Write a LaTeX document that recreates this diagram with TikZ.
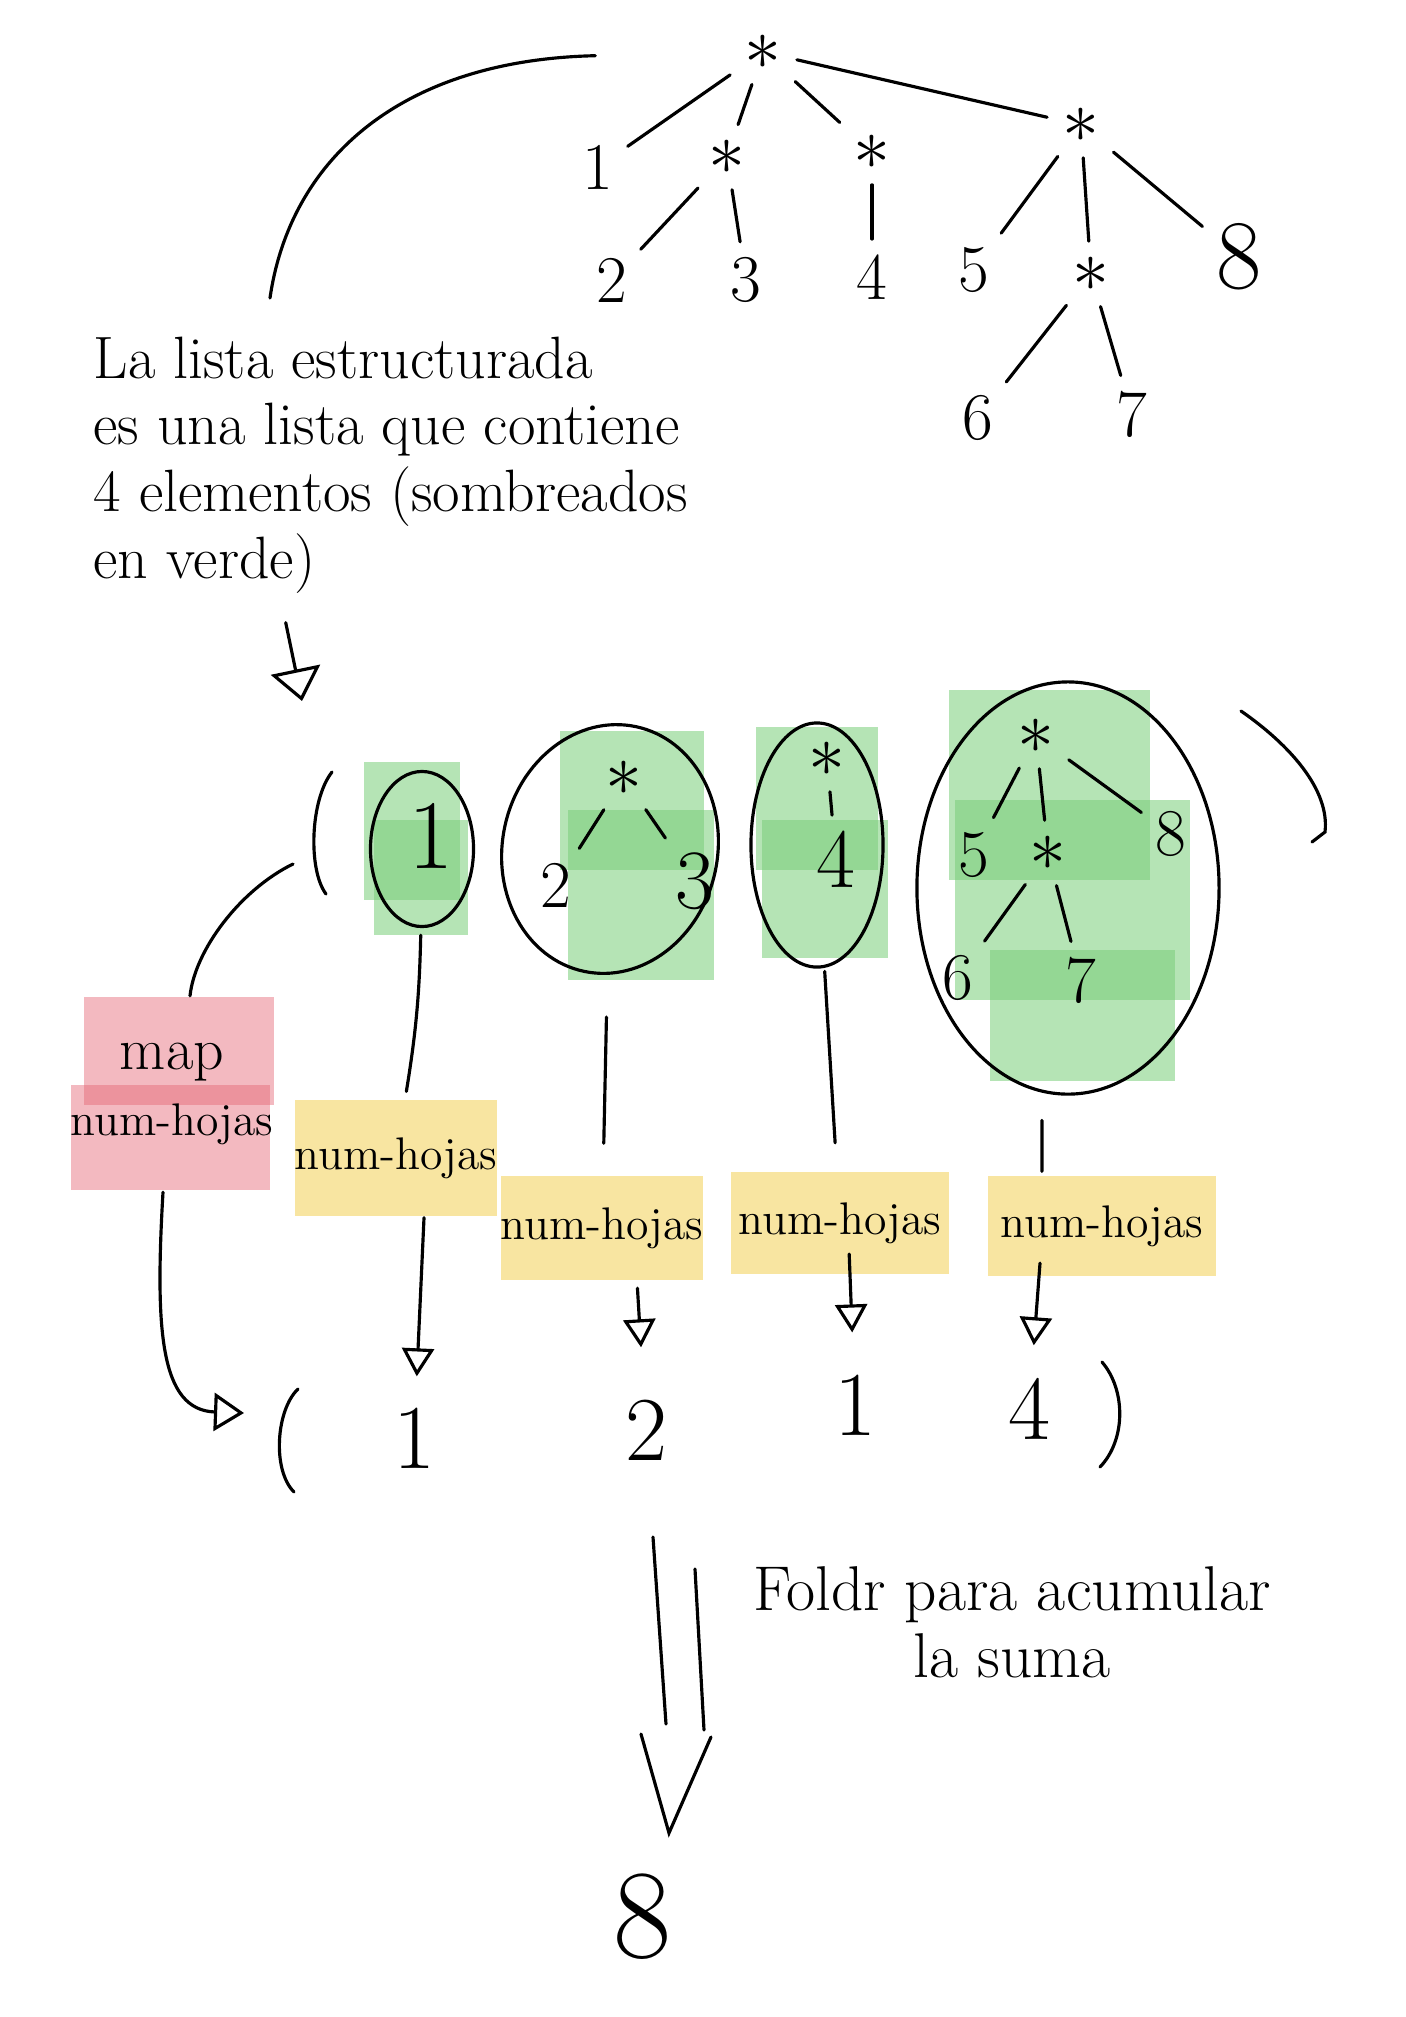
\RequirePackage{fix-cm}
\documentclass[tikz,border=0pt]{standalone}
\usepackage{fontspec}
\usetikzlibrary{arrows.meta,shapes.geometric}

\definecolor{hojasverde}{RGB}{120,205,120}
\definecolor{hojasamarillo}{RGB}{245,220,130}
\definecolor{maprojo}{RGB}{228,100,115}

\begin{document}
\begin{tikzpicture}[x=0.01cm,y=0.01cm,line width=0.9pt,line cap=round,
        por/.style={font=\fontsize{21}{23}\selectfont},
        flecha/.style={-{Triangle[open,length=0.28cm,width=0.32cm]}}]

    \useasboundingbox (0,0) rectangle (1406,-2017);

    % sombreado verde y rojo
    \begin{scope}[fill=hojasverde,fill opacity=0.55]
        \fill (364,-762) rectangle (460,-900);
        \fill (374,-820) rectangle (468,-935);
        \fill (560,-731) rectangle (704,-870);
        \fill (568,-810) rectangle (714,-980);
        \fill (756,-727) rectangle (878,-870);
        \fill (762,-820) rectangle (888,-958);
        \fill (949,-690) rectangle (1150,-880);
        \fill (955,-800) rectangle (1190,-1000);
        \fill (990,-950) rectangle (1175,-1081);
    \end{scope}
    \begin{scope}[fill=maprojo,fill opacity=0.45]
        \fill (84,-997) rectangle (274,-1105);
        \fill (71,-1085) rectangle (270,-1190);
    \end{scope}

    % arbol
    \begin{scope}[every node/.style={font=\fontsize{19}{22}\selectfont,inner sep=2pt}]
        \node[por] (root) at (763,-52) {$\ast$};
        \node (t1) at (598,-167) {1};
        \node[por] (ta) at (727,-157) {$\ast$};
        \node[por] (tb) at (872,-152) {$\ast$};
        \node[por] (tc) at (1081,-125) {$\ast$};
        \node (t2) at (612,-280) {2};
        \node (t3) at (746,-280) {3};
        \node (t4) at (872,-277) {4};
        \node (t5) at (974,-270) {5};
        \node[por] (td) at (1091,-274) {$\ast$};
        \node[font=\fontsize{28}{30}\selectfont] (t8) at (1239,-257) {8};
        \node (t6) at (978,-418) {6};
        \node (t7) at (1132,-414) {7};
    \end{scope}

    \node[font=\fontsize{17}{19}\selectfont,align=left,anchor=north west,inner sep=0pt] (desc) at (92,-335)
        {La lista estructurada\\es una lista que contiene\\4 elementos (sombreados\\en verde)};

    % lista con los 4 elementos
    \begin{scope}[every node/.style={font=\fontsize{19}{22}\selectfont,inner sep=2pt}]
        \node[font=\fontsize{28}{30}\selectfont] (m1) at (431,-836) {1};
        \node[por] (ma) at (624,-778) {$\ast$};
        \node (m2) at (556,-885) {2};
        \node[font=\fontsize{24}{26}\selectfont] (m3) at (695,-881) {3};
        \node[por] (mb) at (827,-759) {$\ast$};
        \node[font=\fontsize{24}{26}\selectfont] (m4) at (836,-859) {4};
        \node[por] (mc) at (1036,-736) {$\ast$};
        \node (m5) at (974,-855) {5};
        \node[por] (md) at (1048,-853) {$\ast$};
        \node (m8) at (1171,-834) {8};
        \node (m6) at (958,-978) {6};
        \node (m7) at (1081,-980) {7};
    \end{scope}

    \begin{scope}[every node/.style={ellipse,draw,inner sep=0pt}]
        \node[minimum width=1.03cm,minimum height=1.55cm] (e1) at (422,-849) {};
        \node[minimum width=2.15cm,minimum height=2.5cm,rotate=-12] (e2) at (610,-849) {};
        \node[minimum width=1.32cm,minimum height=2.44cm] (e3) at (817,-845) {};
        \node[minimum width=3.02cm,minimum height=4.12cm] (e4) at (1068,-888) {};
    \end{scope}

    % etiquetas
    \node[font=\fontsize{13}{19}\selectfont,align=center,minimum width=2.03cm,minimum height=1.93cm] (mapbox) at (172,-1094) {{\fontsize{17}{19}\selectfont map}\\num-hojas};
    \begin{scope}[every node/.style={font=\fontsize{13}{16}\selectfont,fill=hojasamarillo,fill opacity=0.75,text opacity=1,inner sep=0pt}]
        \node[minimum width=1.87cm,minimum height=1.16cm] (h1) at (396,-1158) {num-hojas};
        \node[minimum width=1.99cm,minimum height=1.03cm] (h2) at (602,-1228) {num-hojas};
        \node[minimum width=2.18cm,minimum height=1.01cm] (h3) at (840,-1223) {num-hojas};
        \node[minimum width=2.28cm,minimum height=0.99cm] (h4) at (1102,-1226) {num-hojas};
    \end{scope}

    % resultados
    \begin{scope}[every node/.style={font=\fontsize{26}{28}\selectfont,inner sep=2pt}]
        \node (r1) at (414,-1438) {1};
        \node (r2) at (646,-1430) {2};
        \node (r3) at (855,-1405) {1};
        \node (r4) at (1029,-1409) {4};
    \end{scope}

    \node[font=\fontsize{18}{19}\selectfont,align=center] (foldtxt) at (1012,-1622) {Foldr para acumular\\la suma};
    \node[font=\fontsize{36}{38}\selectfont,inner sep=2pt] (ocho) at (643,-1917) {8};

    \coordinate (descup) at (270,-298);
    \coordinate (listtop) at (302,-701);
    \coordinate (lparenlow) at (293,-864);
    \coordinate (resopen) at (244,-1413);

    % aristas
    \begin{scope}[every edge/.style={draw,shorten <=2pt,shorten >=2pt}]
        \path (root) edge (t1) edge (ta) edge (tb) edge (tc);
        \path (ta) edge (t2) edge (t3);
        \path (tb) edge (t4);
        \path (tc) edge (t5) edge (td) edge (t8);
        \path (td) edge (t6) edge (t7);

        \path (ma) edge (m2) edge (m3);
        \path (mb) edge (m4);
        \path (mc) edge (m5) edge (md) edge (m8);
        \path (md) edge (m6) edge (m7);

        \path (e1) edge[bend left=4] (h1);
        \path (e2) edge[shorten <=12pt,shorten >=9pt] (h2);
        \path (e3) edge[shorten <=1pt,shorten >=8pt] (h3);
        \path ([xshift=-0.26cm]e4.south) edge[shorten <=7pt,shorten >=1pt] ([xshift=-0.6cm]h4.north);
    \end{scope}

    \begin{scope}[every edge/.style={draw,flecha}]
        \path ([xshift=0.28cm]h1.south) edge[shorten >=6.5pt] (r1);
        \path ([xshift=0.35cm]h2.south) edge[shorten <=2pt,shorten >=12.5pt] (r2);
        \path ([xshift=0.1cm]h3.south) edge[shorten <=-6pt,shorten >=9.6pt] (r3);
        \path ([xshift=-0.63cm]h4.south) edge[shorten <=-4pt,shorten >=7pt] (r4);
        \path (desc.south -| 280,0) edge[shorten <=8pt,-{Triangle[open,length=0.32cm,width=0.5cm]}] (listtop);
    \end{scope}

    % curvas
    \draw[shorten >=40pt] (descup) .. controls (290,-160) and (400,-60) .. (root);
    \draw (mapbox.north -| 190,0) .. controls (195,-950) and (240,-890) .. (lparenlow);
    \draw[-{Triangle[open,length=0.3cm,width=0.38cm]}] (mapbox.south -| 163,0) .. controls (155,-1330) and (160,-1410) .. (resopen);

    % parentesis
    \draw (332,-772) .. controls (310,-800) and (308,-870) .. (326,-894);
    \draw (1241,-711) .. controls (1290,-745) and (1330,-790) .. (1325,-832) -- (1312,-842);
    \draw (298,-1389) .. controls (276,-1410) and (272,-1470) .. (294,-1492);
    \draw (1102,-1362) .. controls (1126,-1390) and (1126,-1440) .. (1100,-1467);

    % flecha doble
    \draw (653,-1537) -- (666,-1724);
    \draw (695,-1569) -- (704,-1730);
    \draw (641,-1734) -- (669,-1833) -- (711,-1737);

\end{tikzpicture}
\end{document}
